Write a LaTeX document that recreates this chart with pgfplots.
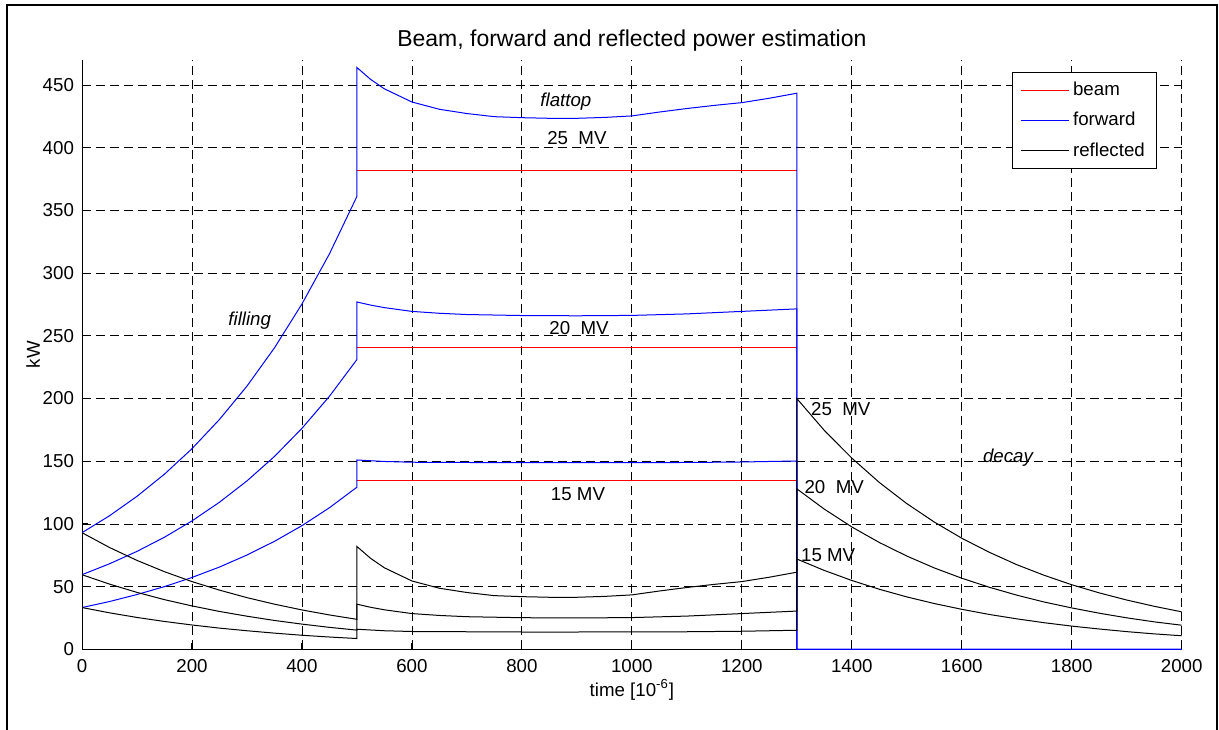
\documentclass[border=0pt]{standalone}
\usepackage{fontspec}
\setmainfont{Liberation Sans}
\usepackage{pgfplots}
\pgfplotsset{compat=1.18}
\newcommand{\tf}{\fontsize{9.35}{11}\selectfont}
\begin{document}
\begin{tikzpicture}
\path[use as bounding box] (0,0) rectangle (609.5pt,364.5pt);
\draw[line width=1pt] (3.5pt,-2pt) -- (3.5pt,362pt) -- (608.6pt,362pt) -- (608.6pt,-2pt);
\begin{axis}[
  at={(41pt,39.85pt)}, anchor=south west,
  scale only axis, width=549.85pt, height=294.65pt,
  xmin=0, xmax=2000, ymin=0, ymax=470,
  axis x line*=bottom, axis y line*=left,
  axis line style={line width=0.5pt},
  xtick={0,200,...,2000}, ytick={0,50,...,450},
  tick align=inside, major tick length=3pt,
  tick style={black, line width=0.5pt},
  /pgf/number format/assume math mode=true,
  /pgf/number format/1000 sep={},
  ticklabel style={font=\tf},
  xticklabel style={yshift=-1.5pt},
  yticklabel style={xshift=-0.5pt},
  grid=major,
  major grid style={black, line width=0.4pt, dash pattern=on 4.5pt off 2.5pt},
  title={Beam, forward and reflected power estimation},
  title style={font=\fontsize{11.5}{13}\selectfont, at={(0.5,1)}, anchor=center, yshift=3.5pt},
  xlabel={time [10\textsuperscript{-6}]},
  xlabel style={font=\tf, at={(0.5,0)}, anchor=center, yshift=-20.35pt},
  ylabel={kW},
  ylabel style={font=\tf, at={(0,0.5)}, anchor=center, yshift=24.5pt},
  legend style={at={(1,1)}, anchor=north east, xshift=-12.2pt, yshift=-6pt,
    font=\tf, draw=black, line width=0.5pt, fill=white, cells={anchor=west},
    row sep=2.85pt, inner xsep=4pt, inner ysep=2.8pt},
  legend image code/.code={\draw[#1] (0pt,0pt) -- (24pt,0pt);},
  every axis plot/.append style={line width=0.5pt},
]
% beam
\addplot[red] coordinates {(500,382) (1300,382)};
\addlegendentry{beam}
\addplot[red, forget plot] coordinates {(500,241) (1300,241)};
\addplot[red, forget plot] coordinates {(500,135) (1300,135)};
% forward
\addplot[blue] coordinates {
(0,93) (50,106.5) (100,122.0) (150,139.7) (200,160.0) (250,183.3) (300,209.9) (350,240.4) (400,275.4) (450,315.4) (500,361.2)
(500,464) (525,454.5) (550,447) (600,436.5) (650,430.7) (700,427.3) (750,424.8) (800,424) (850,423.5) (900,423.5) (950,424.2) (1000,425.4) (1050,428.5) (1100,431.3) (1150,433.8) (1200,436) (1250,439.5) (1300,443.5)
(1300,0) (2000,0)};
\addlegendentry{forward}
\addplot[blue, forget plot] coordinates {
(0,59.5) (50,68.2) (100,78.1) (150,89.4) (200,102.4) (250,117.3) (300,134.3) (350,153.8) (400,176.2) (450,201.8) (500,231.1)
(500,277) (525,274.5) (550,272.5) (600,269.5) (650,268) (700,267) (800,266.2) (900,266) (1000,266.3) (1100,267.5) (1200,269.5) (1300,271.5)
(1300,0) (2000,0)};
\addplot[blue, forget plot] coordinates {
(0,33.3) (50,38.1) (100,43.7) (150,50.0) (200,57.3) (250,65.6) (300,75.2) (350,86.1) (400,98.6) (450,112.9) (500,129.3)
(500,151) (550,149.8) (600,149.2) (700,149) (800,148.8) (900,148.8) (1000,148.9) (1100,149) (1200,149.4) (1300,150.2)
(1300,0) (2000,0)};
% reflected
\addplot[black] coordinates {
(0,93) (50,81.2) (100,70.9) (150,61.9) (200,54.0) (250,47.2) (300,41.2) (350,36.0) (400,31.4) (450,27.4) (500,23.9)
(500,82) (525,72.5) (550,65) (600,54.5) (650,48.7) (700,45.3) (750,42.8) (800,42) (850,41.5) (900,41.5) (950,42.2) (1000,43.4) (1050,46.5) (1100,49.3) (1150,51.8) (1200,54) (1250,57.5) (1300,61.5)
(1300,200) (1350,174.6) (1400,152.5) (1450,133.1) (1500,116.2) (1550,101.5) (1600,88.6) (1650,77.4) (1700,67.5) (1750,59.0) (1800,51.5) (1850,45.0) (1900,39.3) (1950,34.3) (2000,29.9)};
\addlegendentry{reflected}
\addplot[black, forget plot] coordinates {
(0,59.5) (50,52.0) (100,45.4) (150,39.6) (200,34.6) (250,30.2) (300,26.4) (350,23.0) (400,20.1) (450,17.5) (500,15.3)
(500,36) (525,33.5) (550,31.5) (600,28.5) (650,27) (700,26) (800,25.2) (900,25) (1000,25.3) (1100,26.5) (1200,28.5) (1300,30.5)
(1300,128) (1350,111.8) (1400,97.6) (1450,85.2) (1500,74.4) (1550,64.9) (1600,56.7) (1650,49.5) (1700,43.2) (1750,37.7) (1800,33.0) (1850,28.8) (1900,25.1) (1950,21.9) (2000,19.2)};
\addplot[black, forget plot] coordinates {
(0,33.3) (50,29.1) (100,25.4) (150,22.2) (200,19.4) (250,16.9) (300,14.8) (350,12.9) (400,11.2) (450,9.8) (500,8.6)
(500,16) (550,14.8) (600,14.2) (700,14) (800,13.8) (900,13.8) (1000,13.9) (1100,14) (1200,14.4) (1300,15.2)
(1300,72) (1350,62.9) (1400,54.9) (1450,47.9) (1500,41.8) (1550,36.5) (1600,31.9) (1650,27.8) (1700,24.3) (1750,21.2) (1800,18.5) (1850,16.2) (1900,14.1) (1950,12.3) (2000,10.8)};
% annotations
\node[font=\tf\itshape] at (axis cs:880,437) {flattop};
\node[font=\tf] at (axis cs:900,408) {25\ \ MV};
\node[font=\tf] at (axis cs:904,256) {20\ \ MV};
\node[font=\tf] at (axis cs:902,124) {15 MV};
\node[font=\tf\itshape] at (axis cs:305,262) {filling};
\node[font=\tf] at (axis cs:1380,191.6) {25\ \ MV};
\node[font=\tf] at (axis cs:1368,129.6) {20\ \ MV};
\node[font=\tf] at (axis cs:1357,75.3) {15 MV};
\node[font=\tf\itshape] at (axis cs:1684,152.5) {decay};
\end{axis}
\end{tikzpicture}
\end{document}
